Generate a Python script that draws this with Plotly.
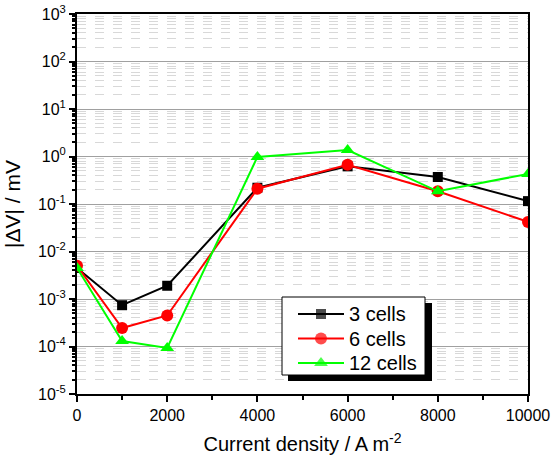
import plotly.graph_objects as go

current_density = [0, 1000, 2000, 4000, 6000, 8000, 10000]
dv_3cells = [4.5e-3, 7.4e-4, 1.9e-3, 0.22, 0.62, 0.37, 0.115]
dv_6cells = [5.0e-3, 2.45e-4, 4.5e-4, 0.21, 0.67, 0.186, 0.042]
dv_12cells = [4.5e-3, 1.3e-4, 9.3e-5, 0.98, 1.37, 0.185, 0.43]
series_names = ["3 cells", "6 cells", "12 cells"]

x_ticks = [0, 2000, 4000, 6000, 8000, 10000]
x_minor_ticks = [1000, 3000, 5000, 7000, 9000]
y_tick_exps = [-5, -4, -3, -2, -1, 0, 1, 2, 3]

L, R, T, B = 77, 25, 14, 69
W, H = 553, 463
PW, PH = W - L - R, H - T - B


def px_x(p):
    return (p - L) / PW


def px_y(p):
    return (H - B - p) / PH


fig = go.Figure()
styles = [
    ("black", "square", 10),
    ("#ff0000", "circle", 12),
    ("#00ff00", "triangle-up", 12),
]
for name, ys, (col, sym, sz) in zip(series_names, [dv_3cells, dv_6cells, dv_12cells], styles):
    fig.add_trace(go.Scatter(
        x=current_density, y=ys, name=name, mode="lines+markers",
        line=dict(color=col, width=2),
        marker=dict(color=col, symbol=sym, size=sz, line=dict(width=0)),
        showlegend=False,
    ))

# ---- legend (drawn on an overlay axis in paper-like units) ----
def box(x0, x1, y0, y1):
    return [px_x(x0), px_x(x1), px_x(x1), px_x(x0), px_x(x0)], \
           [px_y(y0), px_y(y0), px_y(y1), px_y(y1), px_y(y0)]

sx, sy = box(288, 432, 303, 381)
fig.add_trace(go.Scatter(x=sx, y=sy, xaxis="x2", yaxis="y2", mode="lines",
                         fill="toself", fillcolor="black", line=dict(width=0, color="black"),
                         showlegend=False, hoverinfo="skip"))
bx, by = box(282, 425, 297, 375)
fig.add_trace(go.Scatter(x=bx, y=by, xaxis="x2", yaxis="y2", mode="lines",
                         fill="toself", fillcolor="white", line=dict(width=1, color="black"),
                         showlegend=False, hoverinfo="skip"))
rows = [314, 338.5, 363]
annotations = []
for name, (col, sym, sz), ry in zip(series_names, styles, rows):
    fig.add_trace(go.Scatter(
        x=[px_x(298), px_x(321), px_x(344)], y=[px_y(ry)] * 3,
        xaxis="x2", yaxis="y2", mode="lines+markers",
        line=dict(color=col, width=2),
        marker=dict(color=col, symbol=sym, size=[0, sz, 0], line=dict(width=0)),
        showlegend=False, hoverinfo="skip"))
    annotations.append(dict(text=name, xref="paper", yref="paper",
                            x=px_x(347), y=px_y(ry), xanchor="left", yanchor="middle",
                            showarrow=False, font=dict(size=20, color="black")))

minor_vals = [m * 10 ** e for e in range(-5, 3) for m in range(2, 10)]

fig.update_layout(
    width=W, height=H,
    margin=dict(l=L, r=R, t=T, b=B),
    paper_bgcolor="white", plot_bgcolor="white",
    font=dict(family="Liberation Sans, Arial", color="black", size=16),
    showlegend=False,
    annotations=annotations,
    xaxis=dict(
        range=[0, 10000], tickvals=x_ticks, tickformat="d",
        ticks="outside", ticklen=6, tickwidth=1.5, tickcolor="black",
        showline=True, linecolor="black", linewidth=2, mirror=True,
        showgrid=False, zeroline=False,
        tickfont=dict(size=16),
        minor=dict(tickvals=x_minor_ticks, ticks="outside",
                   ticklen=4, tickcolor="black", showgrid=False),
        title=dict(text="Current density / A m<sup>-2</sup>", font=dict(size=20), standoff=14),
        automargin=False,
    ),
    yaxis=dict(
        type="log", range=[-5, 3],
        tickvals=[10 ** e for e in y_tick_exps],
        ticktext=["10<sup>%d</sup>" % e for e in y_tick_exps],
        ticks="outside", ticklen=6, tickwidth=1.5, tickcolor="black",
        showline=True, linecolor="black", linewidth=2, mirror=True,
        showgrid=True, gridcolor="#a0a0a0", gridwidth=1,
        zeroline=False,
        tickfont=dict(size=16),
        minor=dict(tickvals=minor_vals, ticks="outside", ticklen=3,
                   tickcolor="black", showgrid=True, gridcolor="#d8d8d8",
                   griddash="dash", gridwidth=1),
        title=dict(text="|ΔV| / mV", font=dict(size=21), standoff=12),
        automargin=False,
    ),
    xaxis2=dict(overlaying="x", range=[0, 1], visible=False, fixedrange=True),
    yaxis2=dict(overlaying="y", range=[0, 1], visible=False, fixedrange=True),
)

fig.write_html("out.html")
